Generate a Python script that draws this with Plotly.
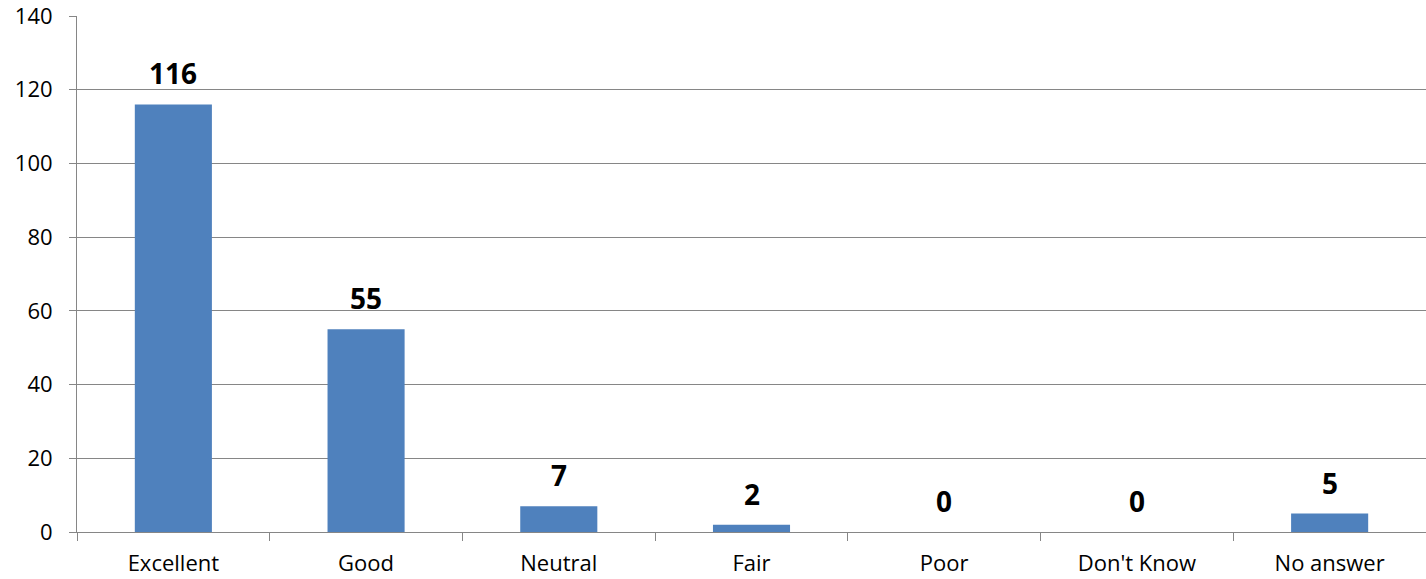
import plotly.graph_objects as go

categories = ["Excellent", "Good", "Neutral", "Fair", "Poor", "Don't Know", "No answer"]
counts = [116, 55, 7, 2, 0, 0, 5]
y_ticks = [0, 20, 40, 60, 80, 100, 120, 140]

font_family = "Open Sans, Lato, sans-serif"

fig = go.Figure(
    go.Bar(
        x=categories,
        y=counts,
        width=0.4,
        marker=dict(color="#4F81BD", line=dict(width=0)),
    )
)

# value labels sit a little above each bar
for cat, val in zip(categories, counts):
    fig.add_annotation(
        x=cat,
        y=val,
        text=str(val),
        showarrow=False,
        yanchor="bottom",
        yshift=10,
        font=dict(family=font_family, size=28, color="#000000", weight="bold"),
    )

axis_font = dict(family=font_family, size=22, color="#000000")

fig.update_layout(
    width=1426,
    height=579,
    margin=dict(l=77, r=0, t=16, b=47),
    paper_bgcolor="white",
    plot_bgcolor="white",
    showlegend=False,
    bargap=0.6,
)
fig.update_xaxes(
    showgrid=False,
    showline=True,
    linecolor="#868686",
    linewidth=1,
    ticks="outside",
    tickson="boundaries",
    ticklen=8,
    tickcolor="#868686",
    tickfont=axis_font,
    ticklabelstandoff=12,
    ticklabeloverflow="allow",
)
fig.update_yaxes(
    range=[0, 140],
    tickvals=y_ticks,
    showgrid=True,
    gridcolor="#868686",
    gridwidth=1,
    showline=True,
    linecolor="#868686",
    linewidth=1,
    ticks="outside",
    ticklen=7,
    tickcolor="#868686",
    tickfont=axis_font,
    ticklabelstandoff=12,
    ticklabeloverflow="allow",
    zeroline=False,
)

fig.write_html("out.html")
